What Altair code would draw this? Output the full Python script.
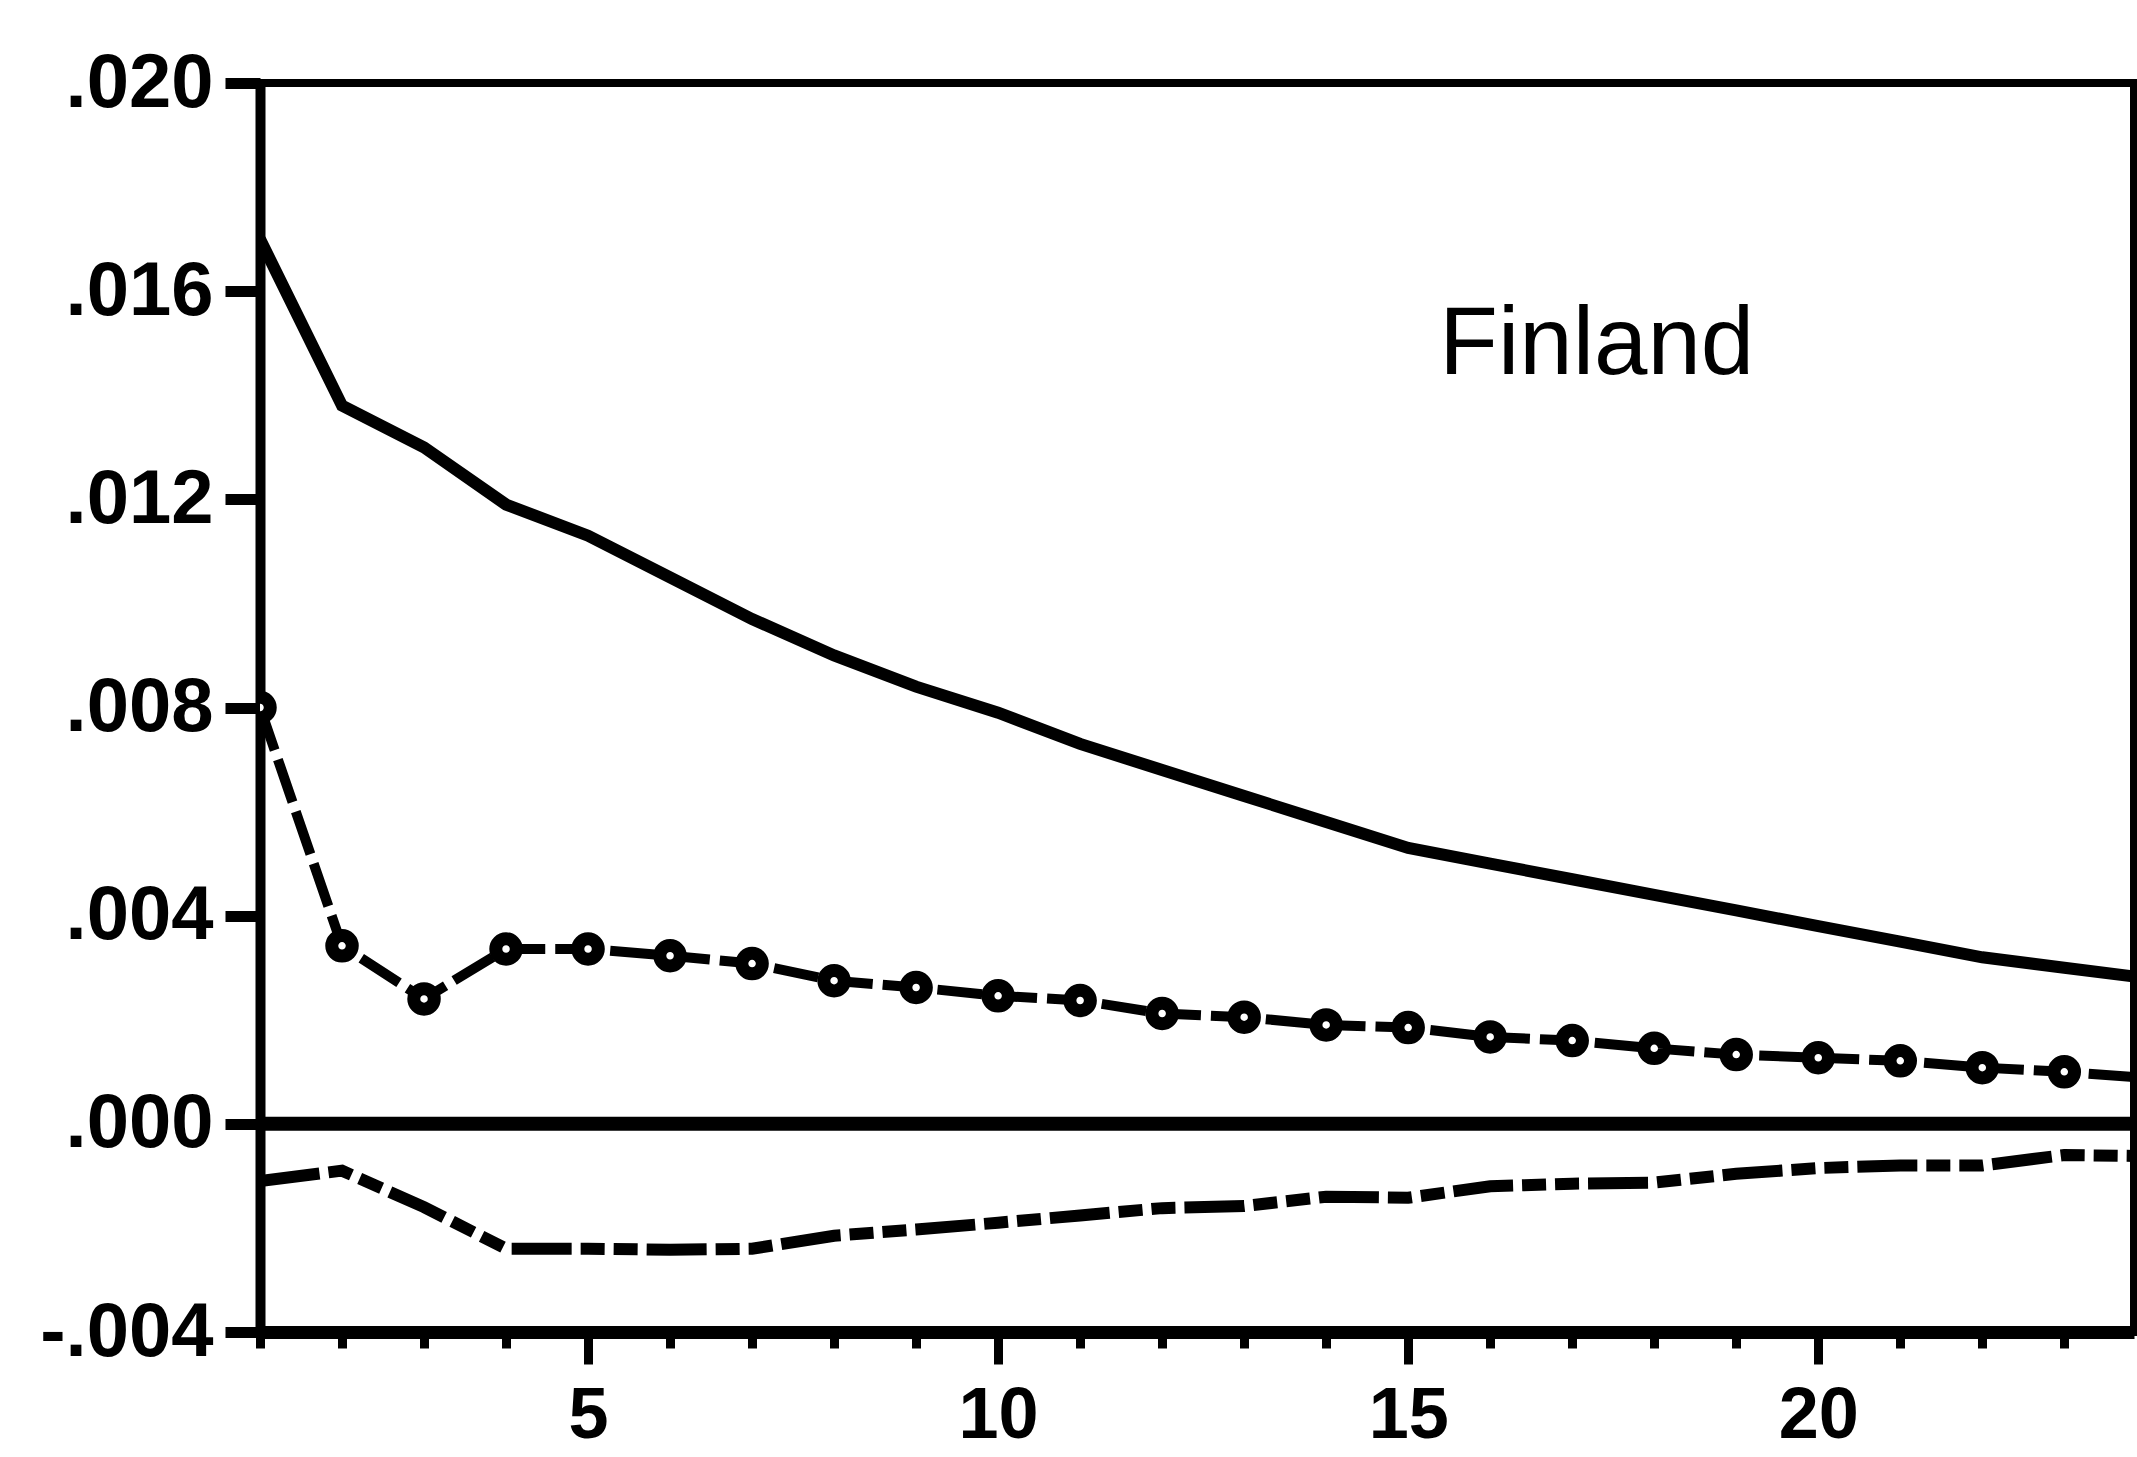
import altair as alt
import pandas as pd

# Impulse-response horizon and the three response paths
horizon = list(range(1, 25))
upper = [0.0170, 0.0138, 0.0130, 0.0119, 0.0113, 0.0105, 0.0097, 0.0090,
         0.0084, 0.0079, 0.0073, 0.0068, 0.0063, 0.0058, 0.0053, 0.0050,
         0.0047, 0.0044, 0.0041, 0.0038, 0.0035, 0.0032, 0.0030, 0.0028]
middle = [0.0080, 0.00342, 0.0024, 0.00336, 0.00336, 0.00323, 0.00308, 0.00275,
          0.00262, 0.00246, 0.00237, 0.00212, 0.00205, 0.0019, 0.00185, 0.00167,
          0.0016, 0.00145, 0.00133, 0.00127, 0.00121, 0.00108, 0.0010, 0.00088]
lower = [-0.0011, -0.0009, -0.0016, -0.0024, -0.0024, -0.00242, -0.0024, -0.00215,
         -0.00203, -0.0019, -0.00176, -0.00162, -0.00158, -0.0014, -0.00142, -0.0012,
         -0.00115, -0.00113, -0.00096, -0.00085, -0.0008, -0.0008, -0.0006, -0.00062]

# Axis ticks and their printed labels
x_range = [1, 23.85]
y_ticks = [-0.004, 0.0, 0.004, 0.008, 0.012, 0.016, 0.020]
y_tick_labels = ["-.004", ".000", ".004", ".008", ".012", ".016", ".020"]
x_ticks = [h for h in horizon if h <= x_range[1]]
x_major = [5, 10, 15, 20]

zero_level = [0.0]
panel_label = ["Finland"]

FONT = "Liberation Sans"


def js_list(values):
    return "[" + ",".join(repr(v) for v in values) + "]"


y_label_expr = f"{js_list(y_tick_labels)}[indexof({js_list(y_ticks)}, datum.value)]"
major_test = f"indexof({js_list(x_major)}, datum.value) >= 0"
x_label_expr = f"{major_test} ? format(datum.value, 'd') : ''"

df = pd.DataFrame({"h": horizon, "upper": upper, "middle": middle, "lower": lower})

x_scale = alt.Scale(domain=x_range, nice=False, zero=False)
y_scale = alt.Scale(domain=[-0.004, 0.020], nice=False, zero=False)

x_axis = alt.Axis(
    values=x_ticks,
    labelExpr=x_label_expr,
    tickSize={"condition": {"test": major_test, "value": 32}, "value": 16},
    tickWidth=9,
    domainWidth=13,
    labelFontSize=72,
    labelPadding=16,
    labelOverlap=False,
    labelFlush=False,
    grid=False,
)
y_axis = alt.Axis(
    values=y_ticks,
    labelExpr=y_label_expr,
    tickSize=35,
    tickWidth=11,
    domainWidth=10,
    labelFontSize=76,
    labelPadding=12,
    labelOverlap=False,
    grid=False,
)


def x_enc():
    return alt.X("h:Q", scale=x_scale, axis=x_axis, title=None)


def y_enc(field):
    return alt.Y(f"{field}:Q", scale=y_scale, axis=y_axis, title=None)


base = alt.Chart(df)

zero_rule = alt.Chart(pd.DataFrame({"level": zero_level})).mark_rule(
    color="black", strokeWidth=14
).encode(y=y_enc("level"))

lower_line = base.mark_line(
    color="black", strokeWidth=12, strokeDash=[60, 9, 24, 9, 24, 9], clip=True
).encode(x=x_enc(), y=y_enc("lower"))

middle_line = base.mark_line(
    color="black", strokeWidth=10, strokeDash=[45, 10], clip=True
).encode(x=x_enc(), y=y_enc("middle"))

middle_points = base.mark_point(
    shape="circle", filled=False, fill="white", fillOpacity=1,
    stroke="black", strokeWidth=13, strokeOpacity=1, size=420, opacity=1,
    clip=True
).encode(x=x_enc(), y=y_enc("middle"))

upper_line = base.mark_line(color="black", strokeWidth=12, clip=True).encode(
    x=x_enc(), y=y_enc("upper")
)

label = alt.Chart(pd.DataFrame({"name": panel_label})).mark_text(
    font=FONT, fontSize=96, align="left", baseline="alphabetic", color="black"
).encode(x=alt.datum(15.38), y=alt.datum(0.0144), text="name:N")

chart = (
    alt.layer(zero_rule, lower_line, middle_line, middle_points, upper_line, label)
    .properties(
        width=1874,
        height=1249,
        autosize=alt.AutoSizeParams(type="none"),
        padding={"left": 260, "top": 83, "right": 3, "bottom": 125},
        background="white",
    )
    .configure_view(stroke="black", strokeWidth=8)
    .configure_axis(
        labelFont=FONT,
        labelFontWeight="bold",
        labelColor="black",
        tickColor="black",
        domainColor="black",
    )
)

chart.save("out.html", embed_options={"renderer": "svg", "actions": False})
